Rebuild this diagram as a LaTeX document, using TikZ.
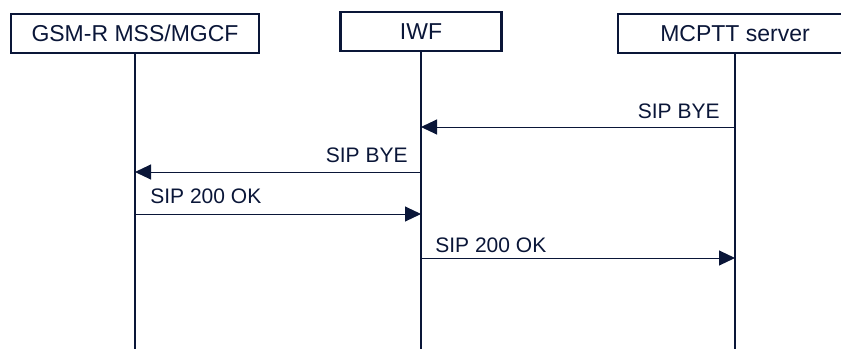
\documentclass[tikz,border=0pt]{standalone}
\usepackage{fontspec}
\setmainfont{Liberation Sans}
\definecolor{sqnavy}{RGB}{10,22,56}
\usetikzlibrary{arrows.meta, positioning}

\begin{document}
\begin{tikzpicture}[x=0.5pt, y=-0.5pt,
  entity/.style={draw=sqnavy, line width=1.2pt, minimum height=19.5pt,
                 inner sep=0pt, text=sqnavy, font=\fontsize{11.5}{13}\selectfont},
  life/.style={draw=sqnavy, line width=1pt},
  msg/.style={draw=sqnavy, line width=0.5pt, -{Triangle[length=8pt, width=7.5pt]}},
  lbl/.style={inner sep=0pt, text=sqnavy, font=\fontsize{10.5}{12}\selectfont}]

  \useasboundingbox (0,0) rectangle (841,349);

  \node[entity, minimum width=124pt] (gsm) at (135,33.5) {GSM-R MSS/MGCF};
  \node[entity, minimum width=80.5pt] (iwf) at (421,31.5) {IWF};
  \node[entity, minimum width=117pt] (mcptt) at (735,33.5) {MCPTT server};

  \coordinate (bottom) at (0,349);
  \draw[life] (gsm) -- (gsm |- bottom);
  \draw[life] (iwf) -- (iwf |- bottom);
  \draw[life] (mcptt) -- (mcptt |- bottom);

  \coordinate (bye1) at (0,127);
  \coordinate (bye2) at (0,172);
  \coordinate (ok1) at (0,214);
  \coordinate (ok2) at (0,258);

  \draw[msg] (mcptt |- bye1) -- (iwf |- bye1);
  \node[lbl, anchor=base east] (bye1lbl) at ([shift={(-15,-9)}]mcptt |- bye1) {SIP BYE};

  \draw[msg] (iwf |- bye2) -- (gsm |- bye2);
  \node[lbl, anchor=base east] (bye2lbl) at ([shift={(-13,-10)}]iwf |- bye2) {SIP BYE};

  \draw[msg] (gsm |- ok1) -- (iwf |- ok1);
  \node[lbl, anchor=base west] (ok1lbl) at ([shift={(15,-11)}]gsm |- ok1) {SIP 200 OK};

  \draw[msg] (iwf |- ok2) -- (mcptt |- ok2);
  \node[lbl, anchor=base west] (ok2lbl) at ([shift={(14,-6)}]iwf |- ok2) {SIP 200 OK};
\end{tikzpicture}
\end{document}
